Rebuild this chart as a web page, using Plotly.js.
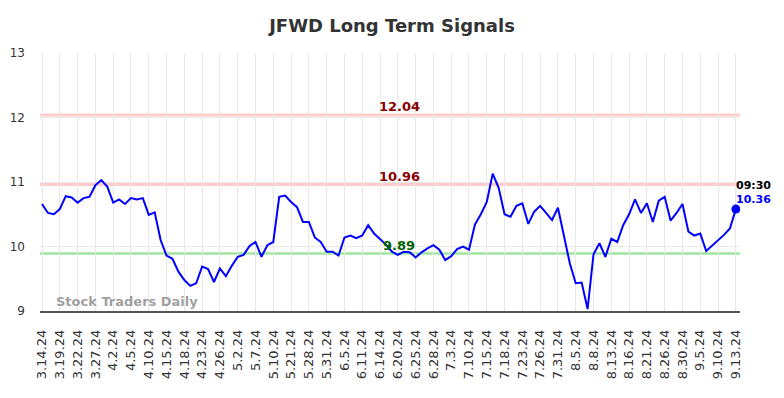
<!DOCTYPE html>
<html>
<head>
<meta charset="utf-8">
<script src="https://cdn.plot.ly/plotly-3.0.1.min.js"></script>
<style>html,body{margin:0;padding:0;background:#fff;}#chart{width:784px;height:398px;}</style>
</head>
<body>
<div id="chart"></div>
<script>
const dates = [
 "3.14.24","3.15.24","3.18.24","3.19.24","3.20.24","3.21.24","3.22.24","3.25.24","3.26.24","3.27.24",
 "3.28.24","4.1.24","4.2.24","4.3.24","4.4.24","4.5.24","4.8.24","4.9.24","4.10.24","4.11.24",
 "4.12.24","4.15.24","4.16.24","4.17.24","4.18.24","4.19.24","4.22.24","4.23.24","4.24.24","4.25.24",
 "4.26.24","4.29.24","5.1.24","5.2.24","5.3.24","5.6.24","5.7.24","5.8.24","5.9.24","5.10.24",
 "5.14.24","5.17.24","5.21.24","5.22.24","5.24.24","5.28.24","5.29.24","5.30.24","5.31.24","6.3.24",
 "6.4.24","6.5.24","6.6.24","6.10.24","6.11.24","6.12.24","6.13.24","6.14.24","6.17.24","6.18.24",
 "6.20.24","6.21.24","6.24.24","6.25.24","6.26.24","6.27.24","6.28.24","7.1.24","7.2.24","7.3.24",
 "7.5.24","7.8.24","7.10.24","7.11.24","7.12.24","7.15.24","7.16.24","7.17.24","7.18.24","7.19.24",
 "7.22.24","7.23.24","7.24.24","7.25.24","7.26.24","7.29.24","7.30.24","7.31.24","8.1.24","8.2.24",
 "8.5.24","8.6.24","8.7.24","8.8.24","8.9.24","8.12.24","8.13.24","8.14.24","8.15.24","8.16.24",
 "8.19.24","8.20.24","8.21.24","8.22.24","8.23.24","8.26.24","8.27.24","8.29.24","8.30.24","9.3.24",
 "9.4.24","9.5.24","9.6.24","9.9.24","9.10.24","9.11.24","9.12.24","9.13.24"
];
const prices = [
 10.66,10.52,10.50,10.58,10.78,10.76,10.68,10.75,10.77,10.95,
 11.03,10.93,10.68,10.73,10.66,10.75,10.73,10.75,10.49,10.53,
 10.10,9.86,9.81,9.61,9.48,9.39,9.43,9.69,9.65,9.45,
 9.66,9.54,9.70,9.84,9.87,10.01,10.07,9.84,10.02,10.07,
 10.77,10.79,10.69,10.61,10.38,10.38,10.14,10.07,9.92,9.92,
 9.86,10.14,10.17,10.13,10.17,10.33,10.20,10.12,10.03,9.92,
 9.87,9.92,9.91,9.83,9.91,9.97,10.02,9.95,9.79,9.85,
 9.96,10.00,9.95,10.34,10.50,10.69,11.13,10.91,10.50,10.46,
 10.63,10.67,10.35,10.54,10.63,10.52,10.41,10.60,10.18,9.74,
 9.43,9.44,9.03,9.88,10.05,9.84,10.12,10.07,10.33,10.50,
 10.73,10.52,10.67,10.38,10.71,10.77,10.40,10.52,10.66,10.23,
 10.17,10.20,9.93,10.01,10.10,10.18,10.28,10.58
];
const tickLabels = [
 "3.14.24","3.19.24","3.22.24","3.27.24","4.2.24","4.5.24","4.10.24","4.15.24","4.18.24","4.23.24",
 "4.26.24","5.2.24","5.7.24","5.10.24","5.21.24","5.28.24","5.31.24","6.5.24","6.11.24","6.14.24",
 "6.20.24","6.25.24","6.28.24","7.3.24","7.10.24","7.15.24","7.18.24","7.23.24","7.26.24","7.31.24",
 "8.5.24","8.8.24","8.13.24","8.16.24","8.21.24","8.26.24","8.30.24","9.5.24","9.10.24","9.13.24"
];
const resistanceLevels = [12.04, 10.96];
const supportLevels = [9.89];
const lastTime = "09:30";
const lastPriceLabel = "10.36";
const yTicks = [9, 10, 11, 12, 13];

const FONT = "DejaVu Sans, sans-serif";
const lastDate = dates[dates.length - 1];
const lastPrice = prices[prices.length - 1];

const shapes = [];
const annotations = [];
resistanceLevels.forEach(v => {
  shapes.push({type:'line', xref:'paper', x0:0, x1:1, yref:'y', y0:v, y1:v,
    line:{color:'rgba(255,160,160,0.55)', width:3}, layer:'below'});
  annotations.push({xref:'paper', x:0.513, yref:'y', y:v, yanchor:'bottom', yshift:-1,
    text:v.toFixed(2), showarrow:false,
    font:{family:FONT, size:13, color:'#8b0000', weight:'bold'}});
});
supportLevels.forEach(v => {
  shapes.push({type:'line', xref:'paper', x0:0, x1:1, yref:'y', y0:v, y1:v,
    line:{color:'rgba(120,220,120,0.7)', width:2.5}, layer:'below'});
  annotations.push({xref:'paper', x:0.513, yref:'y', y:v, yanchor:'bottom', yshift:-1,
    text:v.toFixed(2), showarrow:false,
    font:{family:FONT, size:13, color:'#006400', weight:'bold'}});
});
annotations.push({xref:'x', x:lastDate, yref:'y', y:lastPrice, xanchor:'left', yanchor:'middle',
  xshift:-2, yshift:24, text:lastTime, showarrow:false,
  font:{family:FONT, size:11, color:'#000', weight:'bold'}});
annotations.push({xref:'x', x:lastDate, yref:'y', y:lastPrice, xanchor:'left', yanchor:'middle',
  xshift:-2, yshift:10, text:lastPriceLabel, showarrow:false,
  font:{family:FONT, size:11, color:'#0000ff', weight:'bold'}});
annotations.push({xref:'paper', x:0.02, yref:'paper', y:0.035, xanchor:'left', yanchor:'middle',
  text:'Stock Traders Daily', showarrow:false,
  font:{family:FONT, size:13, color:'rgba(128,128,128,0.75)', weight:'bold'}});

const traces = [
  {x:dates, y:prices, type:'scatter', mode:'lines', line:{color:'#0000ff', width:2}, hoverinfo:'skip'},
  {x:[lastDate], y:[lastPrice], type:'scatter', mode:'markers', marker:{color:'#0000ff', size:9}, hoverinfo:'skip'}
];

const layout = {
  width:784, height:398,
  margin:{l:40, r:44, t:53, b:87},
  paper_bgcolor:'#fff', plot_bgcolor:'#fff',
  showlegend:false,
  title:{text:'JFWD Long Term Signals', x:0.5, xanchor:'center', y:0.935, yanchor:'middle',
    font:{family:FONT, size:18, color:'#333', weight:'bold'}},
  xaxis:{type:'category', categoryorder:'array', categoryarray:dates,
    range:[-0.34, 117.7], tickmode:'array', tickvals:tickLabels, ticktext:tickLabels,
    tickangle:-90, tickfont:{family:FONT, size:13, color:'#333'}, ticklabelstandoff:12,
    showgrid:true, gridcolor:'#e8e8e8', gridwidth:1,
    showline:true, linecolor:'#555', linewidth:1.5, ticks:'', zeroline:false},
  yaxis:{range:[9, 13], tickmode:'array', tickvals:yTicks, ticktext:yTicks.map(String),
    tickfont:{family:FONT, size:12, color:'#333'}, ticklabelstandoff:14,
    showgrid:true, gridcolor:'#e8e8e8', gridwidth:1, zeroline:false, showline:false, ticks:''},
  shapes:shapes,
  annotations:annotations
};

Plotly.newPlot('chart', traces, layout, {staticPlot:true, displayModeBar:false});
</script>
</body>
</html>
